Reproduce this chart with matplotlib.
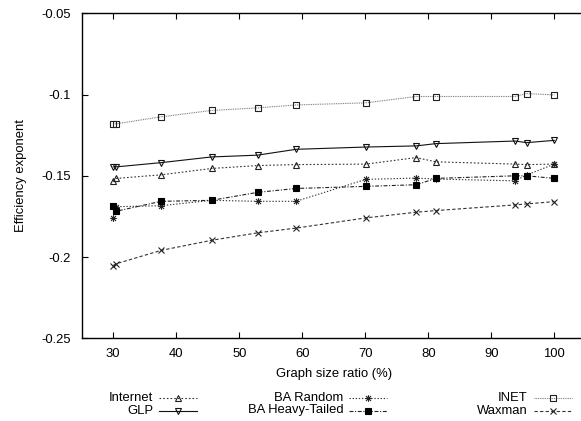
import numpy as np
import matplotlib
matplotlib.use("Agg")
import matplotlib.pyplot as plt
from matplotlib.path import Path
from matplotlib.lines import Line2D

plt.rcParams["font.family"] = ["Liberation Sans", "DejaVu Sans"]
plt.rcParams["axes.unicode_minus"] = False

# Graph size ratio (%) shared by every series
size_ratio = [30, 30.5, 37.6, 45.6, 52.9, 59, 70.1, 78.1, 81.2, 93.8, 95.6, 100]

internet = [-0.1531, -0.1516, -0.1494, -0.1455, -0.1437, -0.1431, -0.1428,
            -0.1388, -0.1414, -0.1428, -0.1431, -0.1428]
glp = [-0.1445, -0.1445, -0.1419, -0.1384, -0.1373, -0.1337, -0.1323,
       -0.1316, -0.1302, -0.1286, -0.1296, -0.1282]
ba_random = [-0.1759, -0.1690, -0.1684, -0.1651, -0.1657, -0.1657, -0.1522,
             -0.1514, -0.1520, -0.1531, -0.1495, -0.1428]
ba_heavy = [-0.1688, -0.1718, -0.1657, -0.1651, -0.1602, -0.1578, -0.1565,
            -0.1555, -0.1516, -0.1500, -0.1500, -0.1516]
inet = [-0.1180, -0.1180, -0.1137, -0.1098, -0.1082, -0.1064, -0.1051,
        -0.1012, -0.1012, -0.1012, -0.0994, -0.1002]
waxman = [-0.2052, -0.2041, -0.1959, -0.1897, -0.1851, -0.1822, -0.1759,
          -0.1724, -0.1714, -0.1679, -0.1673, -0.1659]

x_ticks = [30, 40, 50, 60, 70, 80, 90, 100]
y_ticks = [-0.25, -0.2, -0.15, -0.1, -0.05]
y_tick_labels = ["-0.25", "-0.2", "-0.15", "-0.1", "-0.05"]

# asterisk marker: plus and cross overlaid
star_path = Path(
    [(-1, 0), (1, 0), (0, -1), (0, 1), (-0.75, -0.75), (0.75, 0.75),
     (-0.75, 0.75), (0.75, -0.75)],
    [Path.MOVETO, Path.LINETO] * 4)

# open square with a dot in the middle
sq = [(-1, -1), (1, -1), (1, 1), (-1, 1), (-1, -1)]
dot = [(-0.12, -0.12), (0.12, -0.12), (0.12, 0.12), (-0.12, 0.12), (-0.12, -0.12)]
dotsq_path = Path(sq + dot,
                  [Path.MOVETO] + [Path.LINETO] * 3 + [Path.CLOSEPOLY]
                  + [Path.MOVETO] + [Path.LINETO] * 3 + [Path.CLOSEPOLY])

series = [
    ("Internet", internet, dict(color="#333333", ls=(0, (1.5, 1.8)), marker="^",
                                ms=4.0, mfc="none", mec="#222222")),
    ("GLP", glp, dict(color="#111111", ls="-", marker="v", ms=4.0, mfc="none",
                      mec="#111111")),
    ("BA Random", ba_random, dict(color="#333333", ls=(0, (1.2, 1.6)),
                                  marker=star_path, ms=4.8, mfc="none", mec="#222222")),
    ("BA Heavy-Tailed", ba_heavy, dict(color="#222222", ls=(0, (3.5, 1.5, 1, 1.5)),
                                       marker="s", ms=4.2, mfc="black", mec="black")),
    ("INET", inet, dict(color="#777777", ls=(0, (0.8, 0.8)), marker=dotsq_path,
                        ms=4.8, mfc="none", mec="#222222")),
    ("Waxman", waxman, dict(color="#333333", ls=(0, (3, 2)), marker="x",
                            ms=4.0, mfc="none", mec="#222222")),
]

W, H = 581, 421
fig = plt.figure(figsize=(W / 100, H / 100), dpi=100)

left, right, top, bottom = 81.7, 585.8, 13.3, 338.3
ax = fig.add_axes([left / W, 1 - bottom / H, (right - left) / W, (bottom - top) / H])

for name, vals, st in series:
    ax.plot(size_ratio, vals, lw=0.8, mew=0.8, label=name, **st)

ax.set_xlim(25, 105)
ax.set_ylim(-0.25, -0.05)
ax.set_xticks(x_ticks)
ax.set_xticklabels([str(t) for t in x_ticks])
ax.set_yticks(y_ticks)
ax.set_yticklabels(y_tick_labels)
ax.tick_params(direction="in", length=4, width=0.8, top=True, right=False,
               labelsize=9.4, pad=8, colors="black")
ax.tick_params(axis="x", pad=7)
for s in ax.spines.values():
    s.set_linewidth(1.0)

ax.set_xlabel("Graph size ratio (%)", fontsize=9.4, labelpad=6)
ax.set_ylabel("Efficiency exponent", fontsize=9.4, labelpad=10)

# key below the plot: label right-aligned, followed by a line sample
col_right = [153.3, 343.3, 527.5]
row_y = [398.0, 410.5]
sample_len = 38
order = [(0, 0), (0, 1), (1, 0), (1, 1), (2, 0), (2, 1)]
for (name, vals, st), (c, r) in zip(series, order):
    xr = col_right[c]
    yy = 1 - row_y[r] / H
    fig.text(xr / W, yy, name, ha="right", va="center", fontsize=9.4)
    x0 = (xr + 6) / W
    x1 = (xr + 6 + sample_len) / W
    fig.add_artist(Line2D([x0, x1], [yy, yy], transform=fig.transFigure,
                          color=st["color"], ls=st["ls"], lw=0.8))
    fig.add_artist(Line2D([(x0 + x1) / 2], [yy], transform=fig.transFigure,
                          ls="none", marker=st["marker"], ms=st["ms"],
                          mfc=st["mfc"], mec=st["mec"], mew=0.8))

fig.savefig("out.png", dpi=100)
